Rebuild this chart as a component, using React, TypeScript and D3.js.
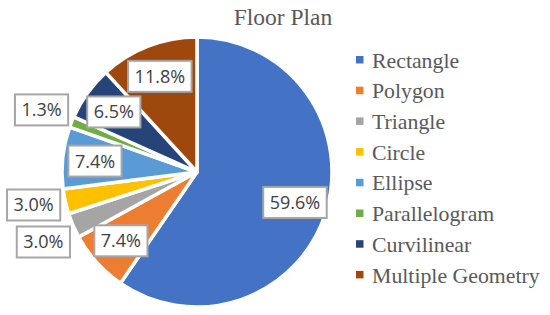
import React, { useRef, useEffect } from 'react';
import * as d3 from 'd3';

const categories = ['Rectangle', 'Polygon', 'Triangle', 'Circle', 'Ellipse', 'Parallelogram', 'Curvilinear', 'Multiple Geometry'];
const values = [59.6, 7.4, 3.0, 3.0, 7.4, 1.3, 6.5, 11.8];
const colors = ['#4472C4', '#ED7D31', '#A5A5A5', '#FFC000', '#5B9BD5', '#70AD47', '#264478', '#9E480E'];
const title = 'Floor Plan';

const App = () => {
    const svgRef = useRef<SVGSVGElement>(null);

    useEffect(() => {
        const svg = d3.select(svgRef.current);
        svg.selectAll('*').remove();

        const width = 550;
        const height = 315;
        const cx = 197;
        const cy = 172;
        const r = 135;
        const serif = '"Liberation Serif", serif';
        const sans = '"Open Sans", sans-serif';

        svg.attr('width', width).attr('height', height).style('background', '#fff');

        svg.append('text')
            .attr('x', 283)
            .attr('y', 25)
            .attr('text-anchor', 'middle')
            .style('font-family', serif)
            .style('font-size', '23.5px')
            .attr('fill', '#595959')
            .text(title);

        const pie = d3.pie<number>().sort(null).value(d => d);
        const arcs = pie(values);
        const arc = d3.arc<d3.PieArcDatum<number>>().innerRadius(0).outerRadius(r);

        const g = svg.append('g').attr('transform', `translate(${cx},${cy})`);

        g.selectAll('path')
            .data(arcs)
            .enter()
            .append('path')
            .attr('d', arc)
            .attr('fill', (d, i) => colors[i])
            .attr('stroke', '#fff')
            .attr('stroke-width', 3.5)
            .attr('stroke-linejoin', 'round');

        // small slices get their label outside, the rest inside
        const inner = d3.arc<d3.PieArcDatum<number>>().innerRadius(r * 0.76).outerRadius(r * 0.76);
        const outer = d3.arc<d3.PieArcDatum<number>>().innerRadius(r * 1.24).outerRadius(r * 1.24);

        const labels = arcs.map(d => {
            const out = d.data < 5;
            const [x, y] = (out ? outer : inner).centroid(d);
            return { d, out, x, y };
        });

        // push apart outside labels that overlap vertically
        const outs = labels.filter(l => l.out).sort((a, b) => a.y - b.y);
        const minGap = 37;
        for (let k = 0; k < 5; k++) {
            for (let i = 1; i < outs.length; i++) {
                const a = outs[i - 1];
                const b = outs[i];
                const gap = b.y - a.y;
                if (gap < minGap) {
                    const shift = (minGap - gap) / 2;
                    a.y -= shift;
                    b.y += shift;
                }
            }
        }

        labels.forEach(l => {
            const lg = g.append('g').attr('transform', `translate(${l.x},${l.y})`);
            const rect = lg.append('rect');
            const t = lg.append('text')
                .attr('text-anchor', 'middle')
                .attr('dy', '0.36em')
                .style('font-family', sans)
                .style('font-size', '18px')
                .attr('fill', '#404040')
                .text(l.d.data.toFixed(1) + '%');
            const bb = (t.node() as SVGTextElement).getBBox();
            const w = bb.width + 13;
            const h = 31;
            rect.attr('x', -w / 2).attr('y', -h / 2)
                .attr('width', w).attr('height', h)
                .attr('fill', '#fff')
                .attr('stroke', '#A6A6A6')
                .attr('stroke-width', 2);
        });

        const legend = svg.append('g').attr('transform', 'translate(356,60)');
        const row = legend.selectAll('g')
            .data(categories)
            .enter()
            .append('g')
            .attr('transform', (d, i) => `translate(0,${i * 30.7})`);
        row.append('rect')
            .attr('x', 0).attr('y', -4)
            .attr('width', 7.5).attr('height', 7.5)
            .attr('fill', (d, i) => colors[i]);
        row.append('text')
            .attr('x', 16)
            .attr('dy', '0.35em')
            .style('font-family', serif)
            .style('font-size', '21.8px')
            .attr('fill', '#595959')
            .text(d => d);
    }, []);

    return <svg ref={svgRef} style={{ position: 'absolute', left: 0, top: 0 }}></svg>;
};

export default App;
